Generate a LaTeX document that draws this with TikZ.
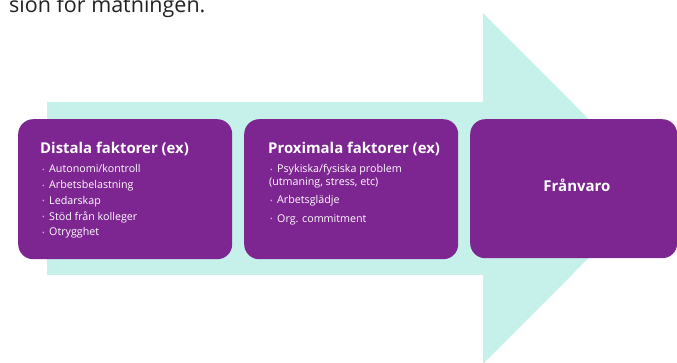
\documentclass[tikz,border=0pt]{standalone}
\usepackage{fontspec}
\setmainfont{Open Sans}
\definecolor{boxpurple}{RGB}{125,37,145}
\definecolor{arrowteal}{RGB}{197,241,234}
\definecolor{bulletpink}{RGB}{220,170,225}
\definecolor{darktext}{RGB}{34,34,34}
\tikzset{
  box/.style={fill=boxpurple, rounded corners=15pt, anchor=north west, inner sep=0pt},
  title/.style={text=white, font=\fontsize{14.9}{17}\selectfont\bfseries, anchor=base west, inner sep=0pt},
  item/.style={text=white, font=\fontsize{10.7}{12}\selectfont, anchor=base west, inner sep=0pt},
  dot/.style={text=bulletpink, font=\fontsize{7}{9}\selectfont, anchor=base west, inner sep=0pt},
}
\begin{document}
\begin{tikzpicture}[x=1pt,y=-1pt]
\useasboundingbox (0,0) rectangle (677,363);
\begin{scope}
\clip (0,0) rectangle (677,363);
% partial caption at top
\node[text=darktext, font=\fontsize{21.5}{24}\selectfont, anchor=base west, inner sep=0pt] (cap) at (9,13) {sion för mätningen.};
% big arrow
\fill[arrowteal] (47,102) -- (483,102) -- (483,13) -- (658,188.5) -- (483,364) -- (483,275) -- (47,275) -- cycle;
% boxes
\node[box, minimum width=214pt, minimum height=140pt] (dist) at (18,119) {};
\node[box, minimum width=214pt, minimum height=140pt] (prox) at (244,119) {};
\node[box, minimum width=207pt, minimum height=139pt] (fran) at (470,119) {};
\end{scope}
% Distala
\node[title] (t1) at (40,154) {Distala faktorer (ex)};
\node[dot] (d1b) at (42,172.5) {•};
\node[item] (d1) at (49,173) {Autonomi/kontroll};
\node[dot] (d2b) at (42,188.5) {•};
\node[item] (d2) at (49,189) {Arbetsbelastning};
\node[dot] (d3b) at (42,204) {•};
\node[item] (d3) at (49,204.5) {Ledarskap};
\node[dot] (d4b) at (42,220) {•};
\node[item] (d4) at (49,220.5) {Stöd från kolleger};
\node[dot] (d5b) at (42,235.5) {•};
\node[item] (d5) at (49,236) {Otrygghet};
% Proximala
\node[title] (t2) at (268,154) {Proximala faktorer (ex)};
\node[dot] (p1b) at (270,172.5) {•};
\node[item] (p1) at (277,173) {Psykiska/fysiska problem};
\node[item] (p1c) at (269,185.5) {(utmaning, stress, etc)};
\node[dot] (p2b) at (270,203.5) {•};
\node[item] (p2) at (277,204) {Arbetsglädje};
\node[dot] (p3b) at (270,222) {•};
\node[item] (p3) at (277,222.5) {Org. commitment};
% Franvaro
\node[text=white, font=\fontsize{15}{17}\selectfont\bfseries, anchor=base, inner sep=0pt] (fr) at (577,192) {Frånvaro};
\end{tikzpicture}
\end{document}
